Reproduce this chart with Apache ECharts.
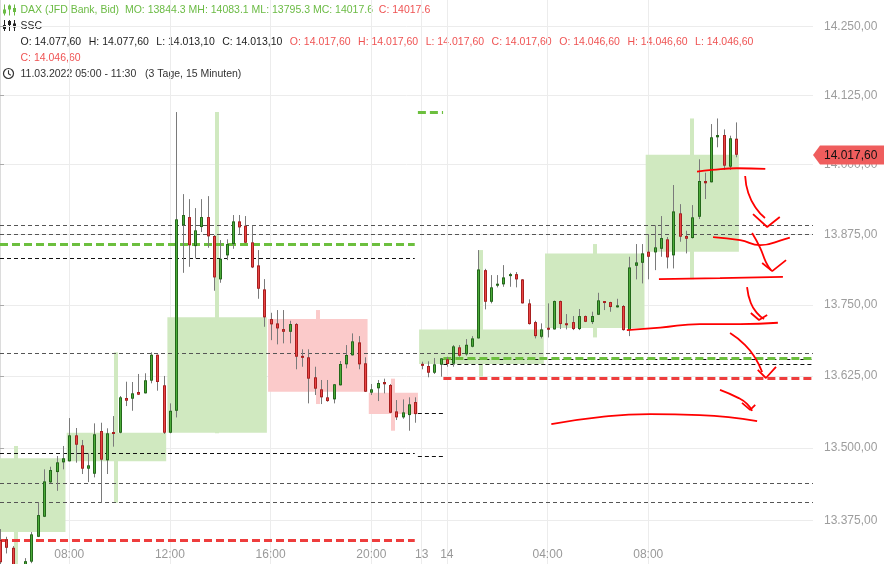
<!DOCTYPE html>
<html><head><meta charset="utf-8">
<script src="https://cdn.jsdelivr.net/npm/echarts@6/dist/echarts.min.js"></script>
<style>html,body{margin:0;padding:0;background:#fff}#c{width:884px;height:564px}</style>
</head><body><div id="c"></div>
<script>
// ---------- DATA ----------
// 15-minute candles, index 0 = Fri 11.03 05:15, 67 = Sun 13 23:00, 71 = Mon 14 00:00
const opens = [
13341.2,13342.4,13328.0,13263.9,13289.7,13304.3,13346.8,13381.2,13440.4,13458.2,
13475.0,13476.8,13521.8,13504.5,13464.0,13455.3,13529.3,13478.5,13526.3,13526.3,
13586.7,13585.5,13597.2,13594.9,13617.0,13662.4,13608.9,13526.3,13564.5,13891.2,
13906.0,13854.3,13888.2,13906.0,13872.2,13795.2,13837.8,13857.9,13898.3,13890.5,
13860.9,13820.0,13777.5,13725.1,13717.5,13707.5,13702.7,13716.3,13660.2,13657.9,
13622.9,13601.9,13587.9,13584.4,13608.9,13645.6,13661.4,13684.1,13647.4,13596.0,
13603.7,13614.7,13609.4,13563.4,13553.0,13557.0,13579.7,13646.2,13642.7,13630.9,
13644.9,13654.4,13646.7,13675.4,13663.1,13676.4,13691.1,13811.6,13755.6,13784.6,
13786.4,13801.0,13804.5,13795.2,13752.8,13719.8,13693.9,13709.2,13706.9,13756.9,
13717.5,13719.8,13707.5,13730.4,13719.8,13732.7,13756.4,13755.1,13745.8,13748.1,
13705.7,13819.3,13824.6,13844.3,13843.1,13849.5,13866.3,13837.8,13912.6,13872.2,
13868.6,13906.5,13970.5,13968.2,14049.1,14053.2,13996.2,14046.6];
const highs = [
13360.1,13346.8,13330.9,13293.1,13310.3,13354.9,13406.4,13462.9,13467.4,13486.0,
13503.3,13551.8,13534.5,13513.7,13490.6,13542.6,13543.7,13534.0,13555.3,13590.2,
13615.2,13614.7,13628.7,13629.9,13666.6,13662.8,13625.2,13577.4,14094.7,13947.0,
13938.0,13922.0,13938.0,13943.4,13873.9,13865.0,13866.3,13909.6,13909.6,13907.8,
13891.2,13847.2,13795.7,13736.2,13741.0,13741.0,13722.1,13718.0,13671.9,13671.9,
13641.4,13618.2,13618.2,13611.2,13651.4,13679.4,13699.9,13695.1,13657.9,13611.2,
13618.2,13620.5,13611.2,13583.2,13584.4,13587.9,13587.9,13650.2,13650.9,13656.7,
13656.7,13658.9,13679.4,13679.4,13689.9,13695.1,13847.2,13813.9,13802.8,13802.8,
13820.5,13806.8,13808.1,13795.7,13759.9,13722.1,13717.5,13752.8,13757.8,13757.8,
13733.9,13730.4,13742.8,13731.3,13738.1,13771.5,13756.9,13755.6,13760.9,13749.8,
13835.3,13857.9,13857.9,13875.7,13891.2,13907.8,13870.4,13963.3,13929.1,13881.6,
13927.4,14009.5,13985.4,14073.0,14083.1,14063.4,14052.0,14076.0];
const lows = [
13296.5,13318.3,13269.1,13251.9,13282.8,13301.7,13346.3,13380.7,13438.7,13425.8,
13462.9,13476.4,13474.4,13454.8,13440.9,13449.0,13405.2,13454.8,13502.1,13525.3,
13572.7,13564.5,13591.9,13594.6,13612.4,13599.5,13524.1,13525.3,13552.9,13806.8,
13817.5,13832.4,13879.3,13851.3,13775.1,13789.2,13829.4,13849.5,13875.2,13859.7,
13815.2,13760.9,13711.5,13688.0,13680.6,13682.4,13682.4,13636.9,13641.4,13577.4,
13591.9,13576.2,13580.2,13577.4,13608.6,13638.6,13661.0,13636.9,13597.2,13591.9,
13581.4,13594.9,13560.5,13548.4,13550.6,13529.8,13543.7,13636.9,13622.9,13628.7,
13624.0,13641.4,13641.4,13658.9,13660.7,13675.4,13690.8,13742.2,13752.8,13781.1,
13782.1,13782.1,13781.1,13752.5,13715.4,13691.1,13691.1,13692.8,13706.6,13707.5,
13706.9,13705.7,13705.7,13719.8,13716.3,13732.2,13741.0,13738.0,13745.4,13704.8,
13695.1,13795.2,13788.1,13795.3,13811.6,13835.3,13814.6,13814.6,13862.0,13841.3,
13867.7,13902.4,13938.2,13967.8,14031.1,13990.3,13990.3,14013.1];
const closes = [
13303.4,13328.0,13281.1,13286.2,13305.1,13351.0,13384.1,13442.1,13461.7,13475.0,
13482.0,13521.8,13505.5,13464.0,13469.8,13523.6,13479.6,13525.3,13525.3,13587.9,
13582.0,13594.9,13592.5,13617.7,13662.4,13614.7,13526.3,13564.5,13901.9,13909.6,
13855.6,13882.3,13906.0,13871.6,13798.7,13831.7,13857.9,13898.3,13887.6,13860.2,
13816.4,13778.6,13728.1,13715.8,13708.7,13702.7,13716.3,13658.9,13657.2,13620.5,
13603.0,13587.9,13581.4,13610.7,13646.2,13661.9,13685.9,13645.6,13597.7,13601.9,
13612.9,13610.7,13561.0,13553.0,13561.7,13575.7,13558.7,13643.2,13630.9,13645.6,
13656.1,13646.2,13677.1,13660.7,13679.9,13691.1,13812.8,13755.6,13781.1,13786.9,
13798.7,13804.5,13795.2,13752.8,13716.3,13695.1,13706.9,13706.9,13756.9,13716.3,
13714.5,13707.5,13730.4,13720.3,13730.4,13758.1,13753.9,13746.3,13749.3,13705.7,
13816.4,13825.3,13841.3,13835.3,13852.0,13868.6,13834.2,13916.1,13870.9,13867.3,
13905.5,13970.5,13966.4,14049.1,14053.2,13998.0,14047.3,14017.6];

// SSC session boxes (candle index ranges)
const boxFrom  = [-5, 11, 27, 43, 59, 67, 87, 103];
const boxTo    = [10, 26, 42, 58, 66, 86, 102, 117];
const boxOpen  = [13354.9,13476.8,13526.3,13725.1,13596.0,13646.2,13709.2,13844.3];
const boxClose = [13482.0,13526.3,13728.1,13597.7,13558.7,13706.9,13841.3,14017.6];
const boxHigh  = [13503.3,13666.6,14094.7,13741.0,13620.5,13847.2,13857.9,14083.1];
const boxLow   = [13250.0,13405.2,13525.3,13576.2,13529.8,13624.0,13692.8,13795.3];

// horizontal levels: [value, fromIndex, toIndex]
const X_MAX = 129.18;
const greyLevels  = [[13891.2,0,X_MAX],[13876.0,0,X_MAX],[13664.9,0,X_MAX],[13438.5,0,X_MAX],[13405.9,0,X_MAX]];
const blackLevels = [[13832.4,0,65.9],[13490.6,0,65.9],[13559.9,66.4,70.4],[13486.0,66.4,70.4],[13655.4,70.45,X_MAX],[13645.6,70.45,X_MAX]];
const greenLevels = [[13857.9,0,65.9],[14094.7,66.4,70.4],[13656.7,70.45,X_MAX]];
const redLevels   = [[13341.2,0,65.9],[13622.2,70.45,X_MAX]];

// axis ticks
const yTicks = [13375,13500,13625,13750,13875,14000,14125,14250];
const xTickIdx = [11,27,43,59,67,71,87,103];
const xTickLabels = ['08:00','12:00','16:00','20:00','13','14','04:00','08:00'];
const lastPrice = 14017.6;

// header values
const sscBlack = [['O','14.077,60'],['H','14.077,60'],['L','14.013,10'],['C','14.013,10']];
const sscRed = [['O','14.017,60'],['H','14.017,60'],['L','14.017,60'],['C','14.017,60'],['O','14.046,60'],['H','14.046,60'],['L','14.046,60']];

// hand drawn pen strokes [index, price]
const penCurves = [
 [[110.75,13987.2],[113.1,13990.3],[117.1,13993.4],[121.6,13992.1]],
 [[118.4,13979.5],[118.9,13949.0],[120.1,13922.0],[121.55,13904.2]],
 [[113.3,13870.4],[117.6,13865.0],[120.8,13856.1],[124.7,13866.8],[125.5,13869.5]],
 [[119.5,13877.5],[120.8,13850.8],[121.7,13825.9],[122.5,13811.6]],
 [[104.7,13795.7],[114.4,13797.5],[124.4,13799.8]],
 [[118.7,13781.6],[119.3,13753.4],[120.3,13735.7],[121.4,13725.1]],
 [[99.6,13705.7],[104.9,13710.1],[111.2,13716.3],[117.6,13716.3],[123.6,13718.6]],
 [[116.0,13700.4],[118.4,13679.4],[120.0,13656.7],[121.1,13632.2]],
 [[114.4,13601.0],[117.3,13587.0],[118.7,13576.6],[119.5,13564.4]],
 [[87.6,13541.4],[95.3,13553.6],[103.3,13558.7],[111.2,13557.0],[120.3,13546.6]]
];
const penHeads = [
 [[119.65,13911.3],[121.9,13888.2],[123.9,13906.0]],
 [[121.1,13824.1],[122.7,13809.9],[124.9,13829.4]],
 [[119.3,13735.7],[120.6,13723.4],[121.9,13732.2]],
 [[120.4,13635.7],[121.7,13621.7],[123.3,13641.0]],
 [[117.9,13578.3],[119.2,13566.1],[120.0,13574.8]]
];

// ---------- STYLE ----------
const UP_EDGE='#23681a', UP_FILL='#4cab3a', DN_EDGE='#a81f1f', DN_FILL='#ea4545', WICK='#7a7a7a';
const BOX_UP='#d0e9c0', BOX_DN='#fbcaca';
const FONT='"Liberation Sans", Arial, sans-serif';
const HF='10.5px '+FONT;
const TXT_G='#6bbb44', TXT_R='#ef5353';

function deFmt(v){
  const s=Number(v).toFixed(2); const p=s.split('.');
  return p[0].replace(/\B(?=(\d{3})+(?!\d))/g,'.')+','+p[1];
}

const candleData = opens.map((o,i)=>[i,o,highs[i],lows[i],closes[i]]);
const boxData = boxFrom.map((s,k)=>[s,boxTo[k],boxOpen[k],boxClose[k],boxHigh[k],boxLow[k]]);

function renderCandle(params, api){
  const i=api.value(0),o=api.value(1),h=api.value(2),l=api.value(3),c=api.value(4);
  const up=c>=o;
  const pH=api.coord([i,h]), pL=api.coord([i,l]), pO=api.coord([i,o]), pC=api.coord([i,c]);
  const cx=Math.round(pH[0]);
  let top=Math.min(pO[1],pC[1]), bot=Math.max(pO[1],pC[1]);
  if(bot-top<2){const m=(top+bot)/2; top=m-1; bot=m+1;}
  const ch=[
    {type:'line',shape:{x1:cx+0.5,y1:pH[1],x2:cx+0.5,y2:pL[1]},style:{stroke:WICK,lineWidth:1}},
    {type:'rect',shape:{x:cx-1,y:top,width:3,height:bot-top},style:{fill:up?UP_EDGE:DN_EDGE}}
  ];
  if(bot-top>2.5) ch.push({type:'rect',shape:{x:cx,y:top+1,width:1,height:bot-top-2},style:{fill:up?UP_FILL:DN_FILL}});
  return {type:'group',children:ch};
}
function renderBox(params, api){
  const s=api.value(0),e=api.value(1),o=api.value(2),c=api.value(3),h=api.value(4),l=api.value(5);
  const col=c>=o?BOX_UP:BOX_DN;
  const p1=api.coord([s-0.5,Math.max(o,c)]), p2=api.coord([e+0.5,Math.min(o,c)]);
  const m=(s+e)/2, w1=api.coord([m,h]), w2=api.coord([m,l]);
  return {type:'group',children:[
    {type:'rect',shape:{x:Math.round(w1[0])-2,y:w1[1],width:4,height:w2[1]-w1[1]},style:{fill:col}},
    {type:'rect',shape:{x:p1[0]+0.6,y:p1[1],width:p2[0]-p1[0]-1.2,height:p2[1]-p1[1]},style:{fill:col}}
  ]};
}
function levelRenderer(color,width,dash){
  return function(params, api){
    const v=api.value(0),a=api.value(1),b=api.value(2);
    const p1=api.coord([a,v]), p2=api.coord([b,v]);
    const y=(width%2===1)?Math.round(p1[1])+0.5:Math.round(p1[1]);
    return {type:'line',shape:{x1:p1[0],y1:y,x2:p2[0],y2:y},style:{stroke:color,lineWidth:width,lineDash:dash}};
  };
}
function renderTag(params, api){
  const v=api.value(1);
  const yc=Math.round(api.coord([0,v])[1]);
  const cs=params.coordSys; const x0=cs.x+cs.width;
  return {type:'group',children:[
    {type:'polygon',shape:{points:[[x0,yc],[x0+7,yc-9.5],[884,yc-9.5],[884,yc+9.5],[x0+7,yc+9.5]]},style:{fill:'#ef5d5d'}},
    {type:'text',x:x0+11,y:yc+0.5,style:{text:deFmt(v),font:'12px '+FONT,fill:'#111',verticalAlign:'middle',align:'left'}}
  ]};
}

const series=[
  {type:'custom',name:'ssc',renderItem:renderBox,data:boxData,encode:{x:[0,1],y:[2,3,4,5]},z:1,clip:true,silent:true},
  {type:'custom',renderItem:levelRenderer('#555555',1,[4,3]),data:greyLevels,encode:{x:[1,2],y:0},z:2,clip:true,silent:true},
  {type:'custom',renderItem:levelRenderer('#111111',1,[4,3]),data:blackLevels,encode:{x:[1,2],y:0},z:2,clip:true,silent:true},
  {type:'custom',renderItem:levelRenderer('#6cbf3e',3,[8,4]),data:greenLevels,encode:{x:[1,2],y:0},z:2,clip:true,silent:true},
  {type:'custom',renderItem:levelRenderer('#ee3d3d',3,[8,4]),data:redLevels,encode:{x:[1,2],y:0},z:2,clip:true,silent:true},
  {type:'custom',name:'DAX',renderItem:renderCandle,data:candleData,encode:{x:0,y:[1,2,3,4]},z:3,clip:true,silent:true}
];
penCurves.forEach(s=>series.push({type:'line',data:s,smooth:0.5,symbol:'none',z:4,silent:true,lineStyle:{color:'#ff0000',width:1.8}}));
penHeads.forEach(s=>series.push({type:'line',data:s,smooth:false,symbol:'none',z:4,silent:true,lineStyle:{color:'#ff0000',width:1.8}}));
series.push({type:'custom',renderItem:renderTag,data:[[117,lastPrice]],encode:{x:0,y:1},z:10,clip:false,silent:true});

function candleIcon(x0,y0,col){
  const off=[5,1,3.5]; const ch=[];
  for(let k=0;k<3;k++){
    const x=x0+k*5;
    ch.push({type:'line',shape:{x1:x+0.5,y1:y0,x2:x+0.5,y2:y0+11},style:{stroke:col,lineWidth:1}});
    ch.push({type:'rect',shape:{x:x-1,y:y0+off[k],width:3,height:4},style:{fill:col}});
  }
  return {type:'group',children:ch};
}

const GAP='{s| }';
const line3 = sscBlack.map(g=>'{k|'+g[0]+': '+g[1]+'}').join(GAP) + GAP +
              sscRed.map(g=>'{r|'+g[0]+': '+g[1]+'}').join(GAP);

const option={
  animation:false,
  backgroundColor:'#ffffff',
  textStyle:{fontFamily:FONT},
  grid:{left:0,right:71,top:0,bottom:0,containLabel:false,outerBoundsMode:'none'},
  xAxis:{type:'value',min:0,max:X_MAX,
    axisLine:{show:false},
    axisTick:{show:false,customValues:xTickIdx},
    axisLabel:{customValues:xTickIdx,inside:true,margin:3,color:'#999999',fontSize:12,fontFamily:FONT,
      formatter:v=>{const k=xTickIdx.indexOf(Math.round(v));return k>=0?xTickLabels[k]:'';}},
    splitLine:{show:true,lineStyle:{color:'#ececec',width:1}}},
  yAxis:{type:'log',logBase:10,min:13300.3,max:14298.9,position:'right',
    axisLine:{show:true,lineStyle:{color:'#dcdcdc'}},
    axisTick:{show:true,customValues:yTicks,length:4,lineStyle:{color:'#aaaaaa'}},
    axisLabel:{customValues:yTicks,margin:11,color:'#9d9d9d',fontSize:12,fontFamily:FONT,formatter:v=>deFmt(v)},
    splitLine:{show:true,lineStyle:{color:'#ececec',width:1}}},
  series:series,
  graphic:[
    candleIcon(4,4.5,TXT_G),
    candleIcon(4,20,'#222222'),
    {type:'circle',shape:{cx:8.5,cy:73.5,r:5},style:{fill:'none',stroke:'#333',lineWidth:1.2}},
    {type:'polyline',shape:{points:[[8.5,70.3],[8.5,73.8],[10.8,75.2]]},style:{fill:'none',stroke:'#333',lineWidth:1.1}},
    {type:'text',x:20.5,y:10.5,style:{text:'{g|DAX (JFD Bank, Bid)  MO: 13844.3 MH: 14083.1 ML: 13795.3 MC: 14017.6}  {r|C: 14017.6}',
      font:HF,verticalAlign:'middle',rich:{g:{fill:TXT_G,font:HF},r:{fill:TXT_R,font:HF}}}},
    {type:'text',x:20.5,y:26,style:{text:'SSC',font:HF,fill:'#222',verticalAlign:'middle'}},
    {type:'text',x:20.5,y:42.5,style:{text:line3,
      font:HF,verticalAlign:'middle',rich:{k:{fill:'#222',font:HF},r:{fill:TXT_R,font:HF},s:{font:HF,width:7.5}}}},
    {type:'text',x:20.5,y:58.5,style:{text:'C: 14.046,60',font:HF,fill:TXT_R,verticalAlign:'middle'}},
    {type:'text',x:20.5,y:74,style:{text:'11.03.2022 05:00 - 11:30   (3 Tage, 15 Minuten)',font:HF,fill:'#333',verticalAlign:'middle'}}
  ]
};
const chart=echarts.init(document.getElementById('c'),null,{renderer:'canvas'});
chart.setOption(option);
</script></body></html>
